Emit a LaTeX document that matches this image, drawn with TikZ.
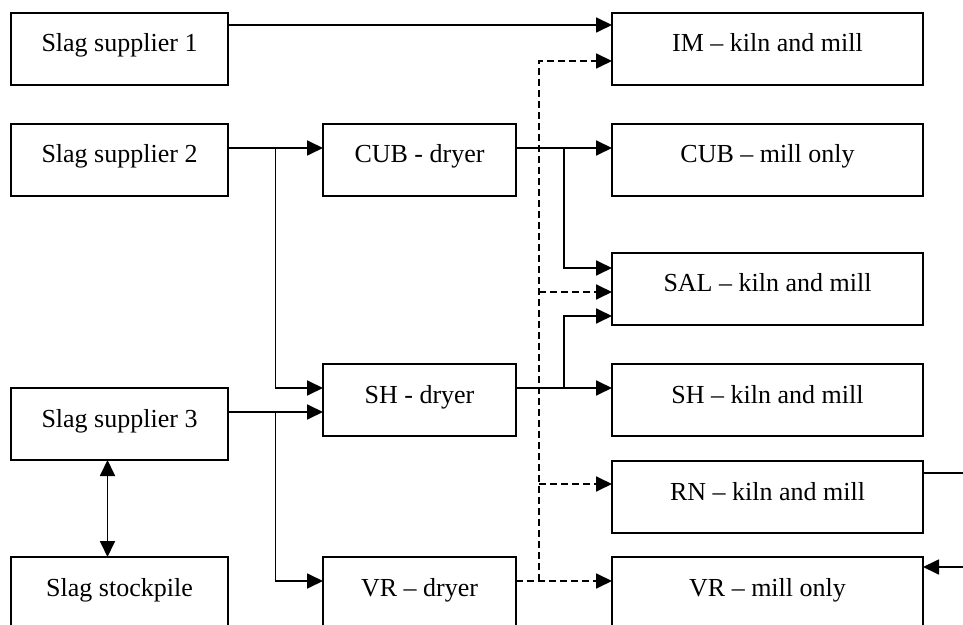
\documentclass[tikz,border=0pt]{standalone}
\usepackage{fontspec}
\setmainfont{Liberation Serif}
\usepackage{tikz}
\usetikzlibrary{arrows.meta,positioning,calc}

\begin{document}
\begin{tikzpicture}[x=0.5pt, y=-0.5pt, font=\fontsize{13}{15}\selectfont, box/.style={draw, line width=1pt, minimum height=36pt, inner sep=0pt, outer sep=0pt, text height=10.5pt, text depth=7.5pt}, lbox/.style={box, minimum width=108.5pt}, mbox/.style={box, minimum width=96.5pt}, rbox/.style={box, minimum width=155.5pt}, arr/.style={-{Triangle[length=8pt, width=7.5pt]}, line width=0.9pt}, darr/.style={arr, dash pattern=on 3.5pt off 2pt}]
\useasboundingbox (0,0) rectangle (963,625);
\clip (0,0) rectangle (963,625);
% suppliers
\node[lbox, anchor=north west] (s1) at (11,13) {Slag supplier 1};
\node[lbox, below=19.5pt of s1] (s2) {Slag supplier 2};
\node[lbox, below=96pt of s2] (s3) {Slag supplier 3};
\node[lbox, below=48.5pt of s3] (stock) {Slag stockpile};
% dryers
\node[mbox, right=47.5pt of s2] (cubd) {CUB - dryer};
\node[mbox, below=84pt of cubd] (shd) {SH - dryer};
\node[mbox, right=47.5pt of stock] (vrd) {VR -- dryer};
% kilns and mills
\node[rbox, right=48pt of cubd] (cubm) {CUB -- mill only};
\node[rbox, above=19.5pt of cubm] (im) {IM -- kiln and mill};
\node[rbox, below=28.5pt of cubm] (sal) {SAL -- kiln and mill};
\node[rbox, right=48pt of shd] (shk) {SH -- kiln and mill};
\node[rbox, below=12.5pt of shk] (rn) {RN -- kiln and mill};
\node[rbox, right=48pt of vrd] (vrm) {VR -- mill only};
% ports
\coordinate (salA) at ([yshift=10.5pt]sal.west);
\coordinate (salB) at ([yshift=-1.5pt]sal.west);
\coordinate (salC) at ([yshift=-13.5pt]sal.west);
\coordinate (rnin) at ([yshift=6.5pt]rn.west);
\coordinate (s3out) at ([yshift=6pt]s3.east);
\coordinate (shdout) at ([yshift=6pt]shd.east);
\coordinate (lj) at ($([yshift=6pt]s2.east)!0.5!([yshift=6pt]cubd.west)$);
\coordinate (rj) at ($([yshift=6pt]cubd.east)!0.5!([yshift=6pt]cubm.west)$);
\coordinate (dv) at ($([yshift=6pt]vrd.east)!0.24!([yshift=6pt]vrm.west)$);
\coordinate (rnout) at ([xshift=20pt, yshift=12pt]rn.east);
\coordinate (vrin) at ([xshift=20pt, yshift=13pt]vrm.east);
% supplies
\draw[arr] ([yshift=12pt]s1.east) -- ([yshift=12pt]im.west);
\draw[arr] ([yshift=6pt]s2.east) -- ([yshift=6pt]cubd.west);
\draw[arr] (lj) |- ([yshift=6pt]shd.west);
\draw[arr] (s3out) -- ([yshift=-6pt]shd.west);
\draw[arr] (lj |- s3out) |- ([yshift=6pt]vrd.west);
\draw[{Triangle[length=8pt, width=7.5pt]}-{Triangle[length=8pt, width=7.5pt]}, line width=0.9pt] ([xshift=-6pt]s3.south) -- ([xshift=-6pt]stock.north);
% dried slag
\draw[arr] ([yshift=6pt]cubd.east) -- ([yshift=6pt]cubm.west);
\draw[arr] (rj) |- (salA);
\draw[arr] (shdout) -- ([yshift=6pt]shk.west);
\draw[arr] (rj |- shdout) |- (salC);
% stockpile route
\draw[darr] ([yshift=6pt]vrd.east) -- ([yshift=6pt]vrm.west);
\draw[darr] (dv) |- ([yshift=-6pt]im.west);
\draw[darr] (dv |- salB) -- (salB);
\draw[darr] (dv |- rnin) -- (rnin);
\draw[line width=0.9pt] ([yshift=12pt]rn.east) -- (rnout);
\draw[arr] (vrin) -- ([yshift=13pt]vrm.east);
\end{tikzpicture}
\end{document}
